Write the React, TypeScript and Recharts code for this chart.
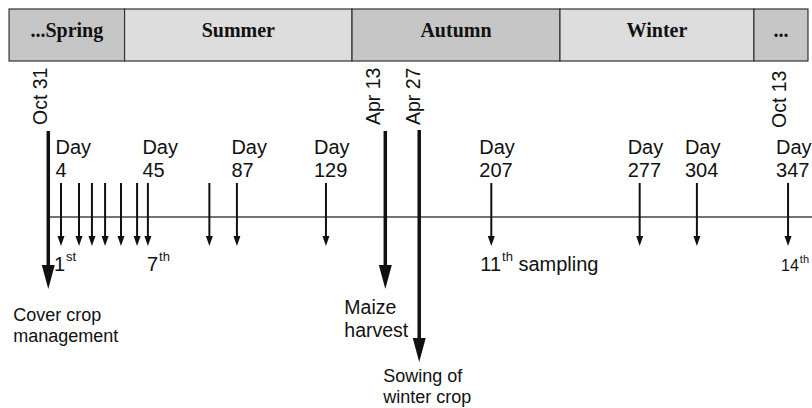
import React from 'react';
import {
  ComposedChart,
  XAxis,
  YAxis,
  Line,
  ReferenceLine,
  ReferenceArea,
  ReferenceDot,
} from 'recharts';

// ---------------- data ----------------
const seasonNames = ['...Spring', 'Summer', 'Autumn', 'Winter', '...'];
const seasonBounds = [-20.5, 34, 141.3, 239.4, 330.9, 356.4];

const samplingDays = [4, 12.5, 18.6, 24.8, 32.3, 39.9, 45, 74, 87, 129, 207, 277, 304, 347];
const dayLabels = ['4', '', '', '', '', '', '45', '', '87', '129', '207', '277', '304', '347'];
const ordinalNumbers = ['1', '', '', '', '', '', '7', '', '', '', '11', '', '', '14'];
const ordinalSuffixes = ['st', '', '', '', '', '', 'th', '', '', '', 'th', '', '', 'th'];
const ordinalTails = ['', '', '', '', '', '', '', '', '', '', ' sampling', '', '', ''];

const eventDays = [-2, 157, 173];
const eventCaptions = [
  ['Cover crop', 'management'],
  ['Maize', 'harvest'],
  ['Sowing of', 'winter crop'],
];

const dateLabels = ['Oct 31', 'Apr 13', 'Apr 27', 'Oct 13'];
const dateDays = [-2, 157, 173, 347];

const timelineStart = -2;
const timelineEnd = 358.3;

// ---------------- layout / style ----------------
const W = 812;
const H = 408;
const X_DOMAIN: [number, number] = [-21, 358.3];
const Y_DOMAIN: [number, number] = [-191, 209];
const BAND_TOP = 208;
const BAND_BOTTOM = 156;
const SAMPLE_TOP = 34;
const SAMPLE_TIP = -29;
const EVENT_TOP = [86, 86, 87];
const EVENT_TIP = [-72, -72, -145];
const DATE_Y = [92, 92, 92, 89];
const DATE_DX = [-1, -5, 1, -2];
const CAPTION_STYLE = [
  { dx: -35, dy: [32, 53], fs: 18 },
  { dx: -41, dy: [25, 48], fs: 19.5 },
  { dx: -36, dy: [20, 41], fs: 18 },
];
const ORD_STYLE: Record<number, { dx: number; fs: number; sfs: number; sdy: number }> = {
  0: { dx: -7, fs: 20, sfs: 13, sdy: -10 },
  6: { dx: -1, fs: 20, sfs: 13, sdy: -10 },
  10: { dx: -11, fs: 20, sfs: 13, sdy: -10 },
  13: { dx: -7, fs: 16, sfs: 11, sdy: -8 },
};
const SANS = "'Liberation Sans', Arial, sans-serif";
const SERIF = "'Liberation Serif', 'Times New Roman', serif";
const INK = '#111';
const DARK_BAND = '#c6c6c6';
const LIGHT_BAND = '#dddddd';

const timelineData = [
  { x: timelineStart, y: 0 },
  { x: timelineEnd, y: 0 },
];

function arrowParts(x: number, y1: number, y2: number, w: number, hw: number, hh: number) {
  const baseY = y2 - hh;
  return (
    <>
      <line x1={x} y1={y1} x2={x} y2={baseY + 1} stroke={INK} strokeWidth={w} />
      <polygon points={`${x - hw / 2},${baseY} ${x + hw / 2},${baseY} ${x},${y2}`} fill={INK} />
    </>
  );
}

function samplingShape(i: number) {
  return (p: any) => {
    const x = p.x1;
    const y1 = Math.min(p.y1, p.y2);
    const y2 = Math.max(p.y1, p.y2);
    const lbl = dayLabels[i];
    const ldx = lbl.length <= 2 ? -5.5 : -12;
    const ord = ordinalNumbers[i];
    const os = ORD_STYLE[i] ?? { dx: -5, fs: 20, sfs: 13, sdy: -10 };
    return (
      <g>
        {arrowParts(x, y1, y2, 2, 7, 10)}
        {lbl && (
          <text x={x + ldx} y={y1 - 29} fontFamily={SANS} fontSize={20} fill={INK}>
            Day
          </text>
        )}
        {lbl && (
          <text x={x + ldx} y={y1 - 6} fontFamily={SANS} fontSize={20} fill={INK}>
            {lbl}
          </text>
        )}
        {ord && (
          <text x={x + os.dx} y={y2 + 25} fontFamily={SANS} fontSize={os.fs} fill={INK}>
            {ord}
            <tspan dx={1} dy={os.sdy} fontSize={os.sfs}>
              {ordinalSuffixes[i]}
            </tspan>
            {ordinalTails[i] && (
              <tspan dy={-os.sdy} fontSize={os.fs}>
                {ordinalTails[i]}
              </tspan>
            )}
          </text>
        )}
      </g>
    );
  };
}

function eventShape(i: number) {
  return (p: any) => {
    const x = p.x1;
    const y1 = Math.min(p.y1, p.y2);
    const y2 = Math.max(p.y1, p.y2);
    const cs = CAPTION_STYLE[i];
    return (
      <g>
        {arrowParts(x, y1, y2, 3.5, 13, 24)}
        {eventCaptions[i].map((t, k) => (
          <text key={k} x={x + cs.dx} y={y2 + cs.dy[k]} fontFamily={SANS} fontSize={cs.fs} fill={INK}>
            {t}
          </text>
        ))}
      </g>
    );
  };
}

function dateShape(i: number) {
  return (p: any) => {
    const x = p.cx + DATE_DX[i];
    const y = p.cy;
    return (
      <text
        x={x}
        y={y}
        transform={`rotate(-90 ${x} ${y})`}
        textAnchor="start"
        fontFamily={SANS}
        fontSize={19.5}
        fill={INK}
      >
        {dateLabels[i]}
      </text>
    );
  };
}

function seasonShape(i: number) {
  return (p: any) => (
    <g>
      <rect
        x={p.x}
        y={p.y}
        width={p.width}
        height={p.height}
        fill={i % 2 === 0 ? DARK_BAND : LIGHT_BAND}
        stroke="#333"
        strokeWidth={1.2}
      />
      <text
        x={p.x + p.width / 2}
        y={p.y + 27.5}
        textAnchor="middle"
        fontFamily={SERIF}
        fontWeight="bold"
        fontSize={20}
        fill={INK}
      >
        {seasonNames[i]}
      </text>
    </g>
  );
}

export default function App() {
  return (
    <div style={{ position: 'absolute', left: 0, top: 0, width: W, height: H, background: '#fff' }}>
      <ComposedChart
        width={W}
        height={H}
        data={timelineData}
        margin={{ top: 8, right: 0, bottom: 0, left: 8 }}
      >
        <XAxis dataKey="x" type="number" domain={X_DOMAIN} allowDataOverflow hide />
        <YAxis type="number" domain={Y_DOMAIN} allowDataOverflow hide />
        {seasonNames.map((s, i) => (
          <ReferenceArea
            key={s}
            x1={seasonBounds[i]}
            x2={seasonBounds[i + 1]}
            y1={BAND_BOTTOM}
            y2={BAND_TOP}
            ifOverflow="visible"
            shape={seasonShape(i)}
          />
        ))}
        <Line
          dataKey="y"
          stroke="#444"
          strokeWidth={1.5}
          dot={false}
          activeDot={false}
          isAnimationActive={false}
        />
        {samplingDays.map((d, i) => (
          <ReferenceLine
            key={'s' + i}
            segment={[
              { x: d, y: SAMPLE_TOP },
              { x: d, y: SAMPLE_TIP },
            ]}
            ifOverflow="visible"
            shape={samplingShape(i)}
          />
        ))}
        {eventDays.map((d, i) => (
          <ReferenceLine
            key={'e' + i}
            segment={[
              { x: d, y: EVENT_TOP[i] },
              { x: d, y: EVENT_TIP[i] },
            ]}
            ifOverflow="visible"
            shape={eventShape(i)}
          />
        ))}
        {dateDays.map((d, i) => (
          <ReferenceDot key={'d' + i} x={d} y={DATE_Y[i]} r={0} ifOverflow="visible" shape={dateShape(i)} />
        ))}
      </ComposedChart>
    </div>
  );
}
